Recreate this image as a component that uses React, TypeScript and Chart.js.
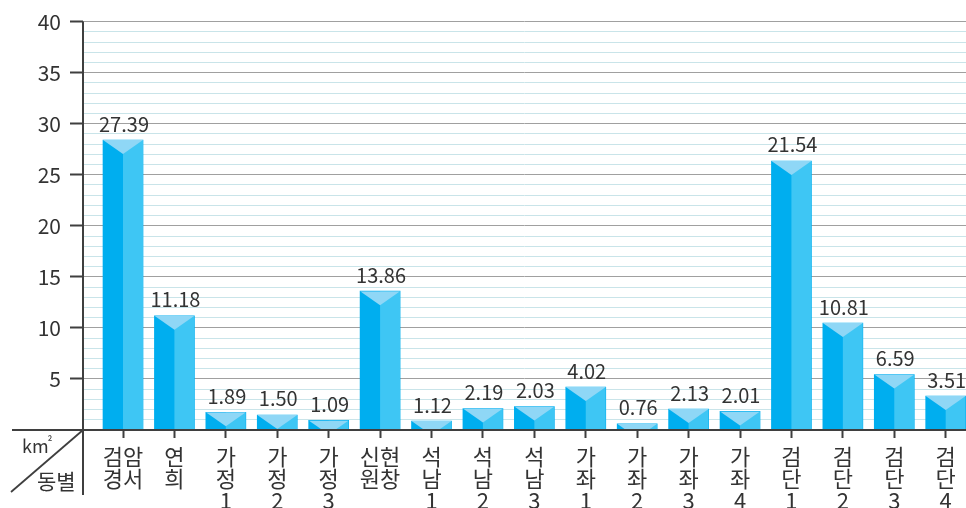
import React, { useEffect, useRef } from "react";
import { Chart, registerables } from "chart.js";

Chart.register(...registerables);

// ---- data ----
const categoryLines: string[][] = [
  ["검암", "경서"],
  ["연", "희"],
  ["가", "정", "1"],
  ["가", "정", "2"],
  ["가", "정", "3"],
  ["신현", "원창"],
  ["석", "남", "1"],
  ["석", "남", "2"],
  ["석", "남", "3"],
  ["가", "좌", "1"],
  ["가", "좌", "2"],
  ["가", "좌", "3"],
  ["가", "좌", "4"],
  ["검", "단", "1"],
  ["검", "단", "2"],
  ["검", "단", "3"],
  ["검", "단", "4"],
];
// printed value labels (km²)
const valueLabels: string[] = [
  "27.39", "11.18", "1.89", "1.50", "1.09", "13.86", "1.12", "2.19", "2.03",
  "4.02", "0.76", "2.13", "2.01", "21.54", "10.81", "6.59", "3.51",
];
// bar heights as drawn in the picture
const barHeights: number[] = [
  28.4, 11.18, 1.74, 1.47, 0.94, 13.6, 0.88, 2.1, 2.3,
  4.2, 0.6, 2.05, 1.82, 26.35, 10.47, 5.43, 3.33,
];
const yMin = 0;
const yMax = 40;
const yStep = 1;
const yMajorStep = 5;
const unitLabel = "km";
const unitSup = "²";
const axisCaption = "동별";

// ---- style ----
const FONT = "'Noto Sans CJK KR', 'Noto Sans', sans-serif";
const LEFT_FACE = "#00aeef";
const RIGHT_FACE = "#3ec6f4";
const TOP_FACE = "#8fd7f6";
const TEXT = "#333333";
const AXIS = "#3f3f3f";

const bar3dPlugin = {
  id: "bar3d",
  afterDatasetsDraw(chart: any) {
    const ctx: CanvasRenderingContext2D = chart.ctx;
    const area = chart.chartArea;
    const meta = chart.getDatasetMeta(0);
    meta.data.forEach((el: any, i: number) => {
      const { x, y, base, width } = el.getProps(["x", "y", "base", "width"], true);
      const l = x - width / 2;
      const r = x + width / 2;
      ctx.save();
      ctx.beginPath();
      ctx.rect(l, y, width, base - y);
      ctx.clip();
      ctx.fillStyle = RIGHT_FACE;
      ctx.fillRect(x, y, width / 2, base - y);
      ctx.fillStyle = TOP_FACE;
      ctx.beginPath();
      ctx.moveTo(l, y);
      ctx.lineTo(r, y);
      ctx.lineTo(x, y + 14);
      ctx.closePath();
      ctx.fill();
      ctx.restore();

      ctx.save();
      ctx.fillStyle = TEXT;
      ctx.font = `20px ${FONT}`;
      ctx.textAlign = "center";
      ctx.textBaseline = "alphabetic";
      ctx.fillText(valueLabels[i], x + 1, y - 8.5);
      ctx.restore();
    });

    // axes lines
    ctx.save();
    ctx.strokeStyle = AXIS;
    ctx.lineWidth = 2;
    ctx.beginPath();
    ctx.moveTo(12, area.bottom);
    ctx.lineTo(area.right, area.bottom);
    ctx.moveTo(area.left, area.top);
    ctx.lineTo(area.left, 495);
    ctx.stroke();
    // diagonal in corner box
    ctx.lineWidth = 1.8;
    ctx.beginPath();
    ctx.moveTo(11, 492);
    ctx.lineTo(area.left, area.bottom);
    ctx.stroke();
    ctx.fillStyle = TEXT;
    ctx.textAlign = "left";
    ctx.textBaseline = "alphabetic";
    ctx.font = `18px ${FONT}`;
    ctx.fillText(unitLabel, 22, 453);
    const w = ctx.measureText(unitLabel).width;
    ctx.font = `12px ${FONT}`;
    ctx.fillText(unitSup, 21 + w, 446);
    ctx.font = `21px ${FONT}`;
    ctx.fillText(axisCaption, 37, 489);
    ctx.restore();
  },
};

export default function App() {
  const ref = useRef<HTMLCanvasElement | null>(null);

  useEffect(() => {
    if (!ref.current) return;
    const data = barHeights.map((h, i) => ({ x: i, y: h }));
    const chart = new Chart(ref.current, {
      type: "bar",
      data: {
        datasets: [
          {
            data,
            backgroundColor: LEFT_FACE,
            borderWidth: 0,
            barThickness: 40,
          } as any,
        ],
      },
      plugins: [bar3dPlugin],
      options: {
        animation: false,
        responsive: false,
        devicePixelRatio: 1,
        layout: { padding: { top: 16, left: 0, right: 0, bottom: 0 } },
        plugins: {
          legend: { display: false },
          tooltip: { enabled: false },
        },
        scales: {
          x: {
            type: "linear",
            min: -0.778,
            max: 16.395,
            offset: false,
            afterFit: (s: any) => {
              s.height = 78;
            },
            afterBuildTicks: (s: any) => {
              s.ticks = categoryLines.map((_, i) => ({ value: i }));
            },
            grid: {
              offset: false,
              drawOnChartArea: false,
              drawTicks: true,
              tickLength: 8,
              tickColor: AXIS,
              tickWidth: 2,
            },
            border: { display: false },
            ticks: {
              autoSkip: false,
              maxRotation: 0,
              minRotation: 0,
              padding: 8,
              color: TEXT,
              font: { family: FONT, size: 22, lineHeight: 0.99 },
              callback: (v: any) => categoryLines[Math.round(Number(v))] ?? "",
            },
          },
          y: {
            type: "linear",
            min: yMin,
            max: yMax,
            afterFit: (s: any) => {
              s.width = 83;
            },
            grid: {
              drawTicks: true,
              tickLength: 13,
              tickWidth: 2,
              lineWidth: 1,
              color: (c: any) =>
                c.tick && c.tick.value % yMajorStep === 0 ? "#a0a0a0" : "#c9e4e9",
              tickColor: (c: any) =>
                c.tick && c.tick.value % yMajorStep === 0 && c.tick.value > 0
                  ? AXIS
                  : "rgba(0,0,0,0)",
            },
            border: { display: false },
            ticks: {
              stepSize: yStep,
              maxTicksLimit: 100,
              autoSkip: false,
              padding: 9,
              color: TEXT,
              font: { family: FONT, size: 21 },
              callback: (v: any) =>
                Number(v) % yMajorStep === 0 && Number(v) > 0 ? String(v) : "",
            },
          },
        },
      } as any,
    });
    return () => chart.destroy();
  }, []);

  return (
    <div style={{ position: "absolute", left: 0, top: 0, width: 966, height: 508, background: "#fff" }}>
      <canvas ref={ref} width={966} height={508} style={{ display: "block" }} />
    </div>
  );
}
